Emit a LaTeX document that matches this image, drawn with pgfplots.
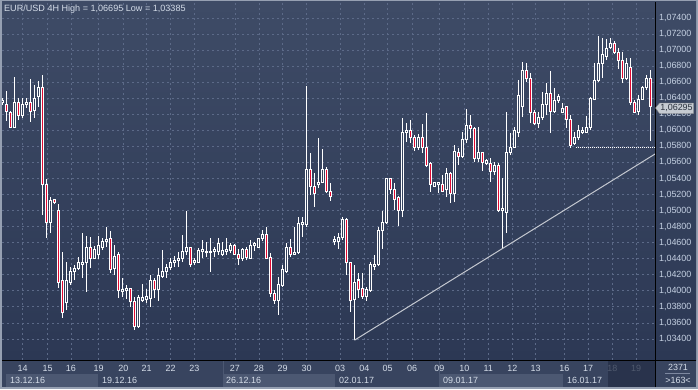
\documentclass[border=0pt]{standalone}
\usepackage{pgfplots}
\pgfplotsset{compat=1.18}
\usepackage{pgfplotstable}
\usepackage{fontspec}
\setmainfont{Liberation Sans}
\definecolor{bgtop}{RGB}{62,75,102}
\definecolor{bgbot}{RGB}{44,56,84}
\definecolor{gridc}{RGB}{92,106,136}
\definecolor{stripc}{RGB}{56,68,95}
\definecolor{weekbox}{RGB}{76,88,114}
\definecolor{darkbox}{RGB}{36,46,70}
\definecolor{framec}{RGB}{150,160,178}
\definecolor{labc}{RGB}{212,220,232}
\definecolor{ytc}{RGB}{196,208,226}
\definecolor{candred}{RGB}{225,10,50}
\definecolor{bodyin}{RGB}{54,67,94}
\definecolor{trendc}{RGB}{196,200,208}
\definecolor{markc}{RGB}{198,203,210}
\pgfplotstableread{
i o h l c
0 1.06341 1.06403 1.06316 1.06366
1 1.06328 1.06491 1.06117 1.06241
2 1.06228 1.06241 1.06029 1.06041
3 1.06041 1.06665 1.06029 1.06341
4 1.06341 1.06403 1.06129 1.06191
5 1.06191 1.06403 1.06154 1.06316
6 1.06316 1.06403 1.06278 1.06353
7 1.06353 1.06640 1.06104 1.06241
8 1.06253 1.06565 1.06154 1.06403
9 1.06416 1.06615 1.06291 1.06540
10 1.06540 1.06690 1.04945 1.05319
11 1.05319 1.05394 1.04659 1.04846
12 1.04846 1.05170 1.04721 1.05120
13 1.05132 1.05144 1.05082 1.05095
14 1.04995 1.05082 1.04036 1.04110
15 1.04123 1.04484 1.03662 1.03724
16 1.03849 1.04359 1.03761 1.04123
17 1.04110 1.04297 1.04073 1.04235
18 1.04235 1.04322 1.04135 1.04284
19 1.04284 1.04421 1.04260 1.04347
20 1.04334 1.04721 1.04160 1.04359
21 1.04359 1.04684 1.03986 1.04534
22 1.04546 1.04671 1.04284 1.04397
23 1.04409 1.04559 1.04397 1.04509
24 1.04447 1.04684 1.04397 1.04559
25 1.04546 1.04659 1.04509 1.04609
26 1.04609 1.04796 1.04546 1.04634
27 1.04646 1.04746 1.04223 1.04272
28 1.04284 1.04571 1.04198 1.04434
29 1.04447 1.04484 1.03911 1.03998
30 1.03986 1.04160 1.03924 1.04011
31 1.03998 1.04073 1.03899 1.04023
32 1.04023 1.04023 1.03799 1.03861
33 1.03861 1.03924 1.03512 1.03550
34 1.03550 1.03948 1.03537 1.03911
35 1.03874 1.04085 1.03861 1.03911
36 1.03886 1.04023 1.03849 1.03924
37 1.03899 1.04198 1.03799 1.04123
38 1.04123 1.04160 1.03911 1.04011
39 1.04011 1.04284 1.03874 1.04185
40 1.04173 1.04509 1.04160 1.04235
41 1.04235 1.04334 1.04160 1.04297
42 1.04297 1.04409 1.04260 1.04347
43 1.04347 1.04434 1.04297 1.04384
44 1.04372 1.04484 1.04297 1.04409
45 1.04409 1.04696 1.04359 1.04484
46 1.04484 1.04995 1.04447 1.04534
47 1.04534 1.04546 1.04297 1.04334
48 1.04347 1.04409 1.04322 1.04372
49 1.04359 1.04534 1.04359 1.04497
50 1.04484 1.04634 1.04409 1.04509
51 1.04472 1.04609 1.04421 1.04484
52 1.04472 1.04659 1.04235 1.04484
53 1.04484 1.04546 1.04421 1.04509
54 1.04484 1.04659 1.04447 1.04596
55 1.04459 1.04609 1.04434 1.04497
56 1.04484 1.04659 1.04447 1.04509
57 1.04497 1.04596 1.04472 1.04571
58 1.04571 1.04584 1.04447 1.04459
59 1.04459 1.04522 1.04322 1.04409
60 1.04409 1.04534 1.04372 1.04509
61 1.04509 1.04546 1.04384 1.04421
62 1.04409 1.04634 1.04397 1.04571
63 1.04559 1.04609 1.04497 1.04584
64 1.04546 1.04659 1.04546 1.04646
65 1.04646 1.04758 1.04621 1.04708
66 1.04708 1.04796 1.04397 1.04409
67 1.04421 1.04472 1.03924 1.03961
68 1.03961 1.04011 1.03836 1.03874
69 1.03874 1.04173 1.03699 1.04073
70 1.04061 1.04322 1.04048 1.04260
71 1.04247 1.04596 1.04223 1.04546
72 1.04546 1.04646 1.04421 1.04459
73 1.04459 1.04796 1.04447 1.04472
74 1.04472 1.04920 1.04459 1.04833
75 1.04821 1.04920 1.04671 1.04846
76 1.04821 1.06552 1.04796 1.05518
77 1.05518 1.05718 1.05194 1.05294
78 1.05294 1.05468 1.05045 1.05219
79 1.05319 1.05905 1.05282 1.05356
80 1.05356 1.05767 1.05344 1.05518
81 1.05518 1.05543 1.05219 1.05232
82 1.05232 1.05344 1.05120 1.05170
83 1.04609 1.04684 1.04571 1.04634
84 1.04609 1.04721 1.04522 1.04659
85 1.04659 1.04920 1.04634 1.04883
86 1.04883 1.04908 1.04198 1.04347
87 1.04359 1.04359 1.03736 1.03874
88 1.03886 1.04322 1.03385 1.04110
89 1.04135 1.04223 1.03911 1.04011
90 1.04023 1.04223 1.03899 1.03924
91 1.03924 1.04048 1.03874 1.04011
92 1.03998 1.04359 1.03986 1.04322
93 1.04309 1.04447 1.04260 1.04334
94 1.04322 1.04796 1.04309 1.04746
95 1.04746 1.04995 1.04522 1.04846
96 1.04846 1.05406 1.04833 1.05394
97 1.05394 1.05406 1.05207 1.05269
98 1.05269 1.05344 1.05007 1.05144
99 1.05157 1.05182 1.04808 1.04995
100 1.05007 1.06154 1.04920 1.05979
101 1.05979 1.06091 1.05855 1.05992
102 1.05992 1.06129 1.05842 1.05905
103 1.05905 1.05942 1.05742 1.05792
104 1.05792 1.05954 1.05755 1.05917
105 1.05917 1.06079 1.05718 1.05780
106 1.05792 1.06216 1.05543 1.05568
107 1.05581 1.05605 1.05232 1.05331
108 1.05306 1.05344 1.05294 1.05344
109 1.05319 1.05344 1.05219 1.05344
110 1.05331 1.05443 1.05232 1.05244
111 1.05257 1.05531 1.05170 1.05468
112 1.05468 1.05481 1.05095 1.05207
113 1.05207 1.05817 1.05107 1.05742
114 1.05730 1.05780 1.05568 1.05668
115 1.05668 1.05979 1.05655 1.05880
116 1.05880 1.06266 1.05842 1.06066
117 1.06066 1.06191 1.05905 1.06029
118 1.06029 1.06041 1.05605 1.05655
119 1.05655 1.06041 1.05605 1.05718
120 1.05718 1.05730 1.05493 1.05605
121 1.05593 1.05643 1.05568 1.05618
122 1.05593 1.05655 1.05356 1.05493
123 1.05481 1.05605 1.05443 1.05568
124 1.05568 1.05593 1.04982 1.05007
125 1.04995 1.05406 1.04534 1.05020
126 1.04982 1.06228 1.04721 1.05730
127 1.05730 1.05967 1.05693 1.05792
128 1.05792 1.06041 1.05780 1.05992
129 1.05979 1.06627 1.05917 1.06440
130 1.06291 1.06851 1.06166 1.06752
131 1.06752 1.06839 1.06602 1.06640
132 1.06640 1.06714 1.06091 1.06228
133 1.06228 1.06253 1.06066 1.06091
134 1.06091 1.06228 1.06029 1.06166
135 1.06154 1.06478 1.06129 1.06328
136 1.06328 1.06590 1.06191 1.06453
137 1.06453 1.06739 1.05967 1.06241
138 1.06241 1.06528 1.06216 1.06366
139 1.06366 1.06453 1.06341 1.06416
140 1.06228 1.06341 1.06216 1.06278
141 1.06291 1.06303 1.06029 1.06141
142 1.06141 1.06191 1.05780 1.05817
143 1.05842 1.05979 1.05817 1.05905
144 1.05905 1.06066 1.05880 1.05992
145 1.05979 1.06041 1.05954 1.05992
146 1.05979 1.06179 1.05967 1.06041
147 1.06041 1.06416 1.06004 1.06403
148 1.06390 1.06839 1.06378 1.06615
149 1.06615 1.07175 1.06602 1.06839
150 1.06839 1.07151 1.06652 1.06939
151 1.06926 1.07138 1.06876 1.07026
152 1.07038 1.07151 1.07013 1.07088
153 1.07088 1.07113 1.06951 1.06976
154 1.06976 1.07026 1.06764 1.06876
155 1.06876 1.06976 1.06590 1.06652
156 1.06652 1.06901 1.06627 1.06839
157 1.06789 1.06901 1.06316 1.06341
158 1.06353 1.06378 1.06216 1.06228
159 1.06241 1.06440 1.06191 1.06390
160 1.06390 1.06552 1.06378 1.06540
161 1.06540 1.06690 1.06503 1.06652
162 1.06652 1.06752 1.05867 1.06295
}\candles
\begin{document}
\begin{tikzpicture}
\begin{scope}[x=1bp,y=1bp]
\useasboundingbox (0,0) rectangle (698,389);
\fill[framec] (0,0) rectangle (698,389);
\shade[top color=bgtop, bottom color=bgbot] (2,29) rectangle (696,387);
\fill[stripc] (2,2) rectangle (696,29);
\fill[weekbox] (6,2) rectangle (98,15);
\fill[weekbox] (223,2) rectangle (335,15);
\fill[weekbox] (439,2) rectangle (563,15);
\draw[weekbox, line width=1bp] (223.5,2) -- (223.5,28);
\draw[weekbox, line width=1bp] (439.5,2) -- (439.5,28);
\end{scope}
\begin{axis}[at={(2bp,29bp)}, anchor=south west, scale only axis,
  width=653bp, height=357bp,
  xmin=-0.125, xmax=163.125, ymin=1.03138, ymax=1.07587,
  axis line style={draw=none}, major tick length=0pt,
  xtick={5.05,11.3,17.1,24.05,30.2,36.05,42.05,47.95,58.1,64.1,70.05,76.05,84.4,90.45,96.3,102.4,109.2,115.45,121.45,127.45,133.3,140.45,146.4,152.45,158.4},
  xticklabels={14,15,16,19,20,21,22,23,27,28,29,30,03,04,05,06,09,10,11,12,13,16,17,18,19},
  ytick={1.034,1.036,1.038,1.040,1.042,1.044,1.046,1.048,1.050,1.052,1.054,1.056,1.058,1.060,1.062,1.064,1.066,1.068,1.070,1.072,1.074},
  yticklabel pos=right,
  grid=major, major grid style={gridc, line width=0.8bp, dash pattern=on 2bp off 3bp},
  xticklabel style={font=\fontsize{9}{10}\selectfont, text=labc, anchor=center, yshift=-8.5bp},
  yticklabel style={font=\fontsize{9}{10}\selectfont, text=ytc, anchor=west, xshift=0.5bp},
  candle/.style={only marks, mark=*, mark options={draw=none, fill=none, draw opacity=0, fill opacity=0}, forget plot},
  /pgf/number format/.cd, fixed, fixed zerofill, precision=5, use comma, assume math mode=true,
]
% wicks
\addplot[candle, error bars/.cd, y dir=plus, y explicit, error mark=none,
  error bar style={draw=white, line width=1bp}]
  table[x=i, y=l, y error plus expr={\thisrow{h}-\thisrow{l}}] \candles;
% body outline
\addplot[candle, error bars/.cd, y dir=plus, y explicit, error mark=none,
  error bar style={draw=white, line width=3.2bp}]
  table[x=i, y expr={min(\thisrow{o},\thisrow{c})-0.0000623}, y error plus expr={abs(\thisrow{o}-\thisrow{c})+0.0001246}] \candles;
% down candles interior
\addplot[candle, error bars/.cd, y dir=plus, y explicit, error mark=none,
  error bar style={draw=candred, line width=1.5bp}]
  table[x=i, y expr={\thisrow{c}+0.0000623}, y error plus expr={max(\thisrow{o}-\thisrow{c}-0.0001246,0)}] \candles;
% up candles interior
\addplot[candle, error bars/.cd, y dir=plus, y explicit, error mark=none,
  error bar style={draw=bodyin, line width=1.3bp}]
  table[x=i, y expr={\thisrow{o}+0.0000623}, y error plus expr={max(\thisrow{c}-\thisrow{o}-0.0001246,0)}] \candles;
% trend line and dotted level
\addplot[trendc, line width=1bp] coordinates {(88,1.03385) (163.125,1.05705)};
\addplot[white, line width=1bp, dash pattern=on 1bp off 1bp] coordinates {(143.25,1.05789) (163.125,1.05789)};
\end{axis}
\begin{scope}[x=1bp,y=1bp]
\fill[darkbox, opacity=0.75] (608,2) rectangle (655,28);
\draw[black, line width=1bp] (655.5,2) -- (655.5,387);
\draw[black, line width=1bp] (2,28.5) -- (696,28.5);
\node[anchor=base west, inner sep=0, text=labc, font=\fontsize{9.1}{10}\selectfont] at (4,377.3) {EUR/USD 4H High = 1,06695 Low = 1,03385};
\begin{scope}[every node/.style={anchor=base west, inner sep=0, text=labc, font=\fontsize{9}{10}\selectfont}]
\node at (10,5.7) {13.12.16};
\node at (102,5.7) {19.12.16};
\node at (226,5.7) {26.12.16};
\node at (339,5.7) {02.01.17};
\node at (443,5.7) {09.01.17};
\node at (567,5.7) {16.01.17};
\end{scope}
\node[anchor=base, inner sep=0, text=labc, font=\fontsize{9}{10}\selectfont] at (678,18.3) {2371};
\draw[gridc!80!white, line width=1bp] (665,15.5) -- (690,15.5);
\node[anchor=base, inner sep=0, text=labc, font=\fontsize{9}{10}\selectfont] at (678,5.7) {>163<};
\fill[markc, draw=gray] (655.5,281) -- (659.5,286) -- (693.5,286) -- (693.5,275.5) -- (659.5,275.5) -- cycle;
\node[anchor=center, inner sep=0, text={rgb,255:red,44;green,50;blue,62}, font=\fontsize{9}{10}\selectfont] at (676.5,280.8) {1,06295};
\end{scope}
\end{tikzpicture}
\end{document}
